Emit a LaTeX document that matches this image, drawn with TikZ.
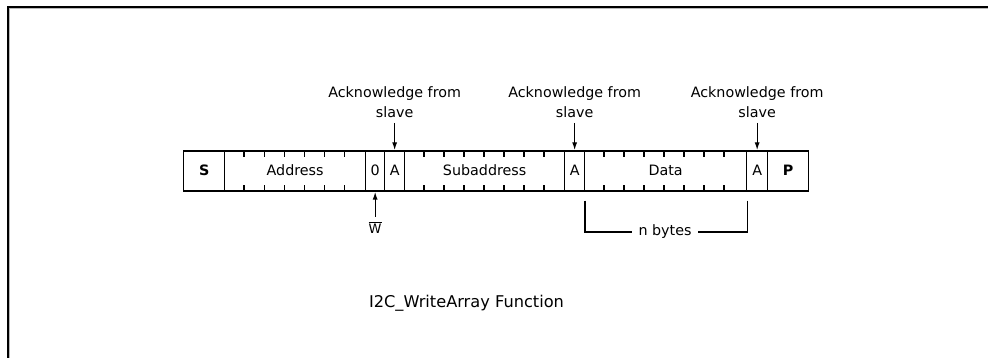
\documentclass[tikz,border=0pt]{standalone}
\usepackage{fontspec}
\setmainfont{DejaVu Sans}
\usetikzlibrary{arrows.meta}
\begin{document}
\begin{tikzpicture}[x=1pt,y=-1pt,
  cell/.style={draw, line width=1.3pt, minimum height=40pt, inner sep=0pt, anchor=west,
    text height=10pt, text depth=0pt, font=\fontsize{14.3}{16}\selectfont},
  tick/.style={line width=1.3pt},
  lbl/.style={inner sep=0pt, align=center, font=\fontsize{14.3}{20}\selectfont},
  conn/.style={line width=1.3pt},
  arr/.style={line width=1.3pt, -{Latex[length=8pt,width=5pt]}},
  frame/.style={line width=2pt}
]
\useasboundingbox (0,0) rectangle (988,358);
% frame
\draw[frame] (7.5,358) -- (7.5,6.6) -- (988,6.6);
\draw[gray!55, line width=0.9pt] (9.6,358) -- (9.6,8.7) -- (988,8.7);

% cells
\node[cell, minimum width=41pt] (S) at (183,171) {\bfseries S};
\node[cell, minimum width=141pt] (addr) at (224,171) {Address};
\node[cell, minimum width=19pt] (zero) at (365,171) {0};
\node[cell, minimum width=20pt] (A1) at (384,171) {A};
\node[cell, minimum width=160pt] (sub) at (404,171) {Subaddress};
\node[cell, minimum width=20pt] (A2) at (564,171) {A};
\node[cell, minimum width=162pt] (data) at (584,171) {Data};
\node[cell, minimum width=21pt] (A3) at (746,171) {A};
\node[cell, minimum width=41pt] (P) at (767,171) {\bfseries P};

% ticks
\foreach \k in {1,...,6} {
  \draw[tick] (224+20.14*\k,151) -- ++(0,6);
  \draw[tick] (224+20.14*\k,191) -- ++(0,-6);
}
\foreach \k in {1,...,7} {
  \draw[tick] (404+20*\k,151) -- ++(0,6);
  \draw[tick] (404+20*\k,191) -- ++(0,-6);
  \draw[tick] (584+20*\k,151) -- ++(0,6);
  \draw[tick] (584+20*\k,191) -- ++(0,-6);
}

% acknowledge labels
\node[lbl, anchor=north] (k1) at ([yshift=64pt]A1.north) {Acknowledge from\\slave};
\node[lbl, anchor=north] (k2) at ([yshift=64pt]A2.north) {Acknowledge from\\slave};
\node[lbl, anchor=north] (k3) at ([yshift=64pt]A3.north) {Acknowledge from\\slave};
\draw[arr, shorten <=5pt] (k1.south) -- (A1.north);
\draw[arr, shorten <=5pt] (k2.south) -- (A2.north);
\draw[arr, shorten <=5pt] (k3.south) -- (A3.north);

% W-bar
\node[inner sep=0pt, font=\fontsize{13}{15}\selectfont, anchor=north] (w) at ([yshift=-30pt]zero.south) {$\overline{\mbox{W}}$};
\draw[arr, shorten <=5pt] (w.north) -- (zero.south);

% n bytes bracket
\node[inner xsep=6pt, inner ysep=0pt, font=\fontsize{14.3}{16}\selectfont] (nb) at (665,232) {n bytes};
\draw[conn] ([xshift=1pt,yshift=-9pt]data.south west) |- (nb.west);
\draw[conn] ([yshift=-9pt]data.south east) |- (nb.east);

% caption
\node[inner sep=0pt, anchor=base, font=\fontsize{16.2}{18}\selectfont] (cap) at (466.5,307) {I2C\_WriteArray Function};
\end{tikzpicture}
\end{document}
